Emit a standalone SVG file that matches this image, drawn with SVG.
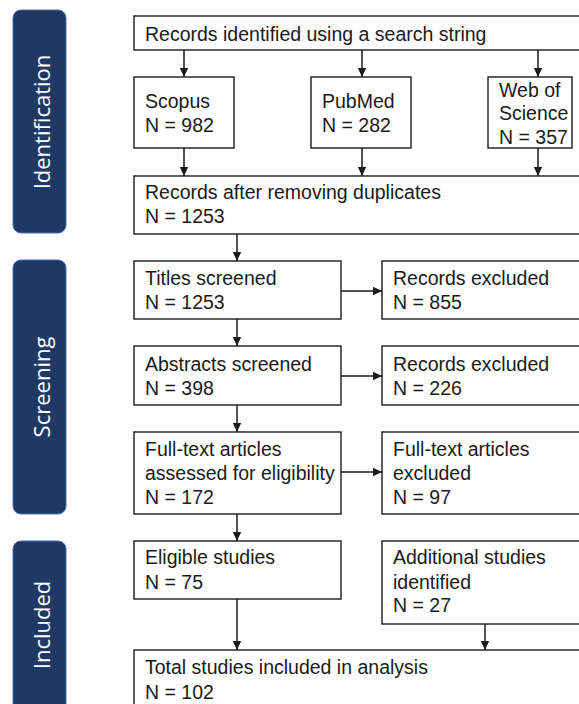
<svg xmlns="http://www.w3.org/2000/svg" width="579" height="704" viewBox="0 0 579 704">
<style>
.band{fill:#203864;stroke:#4a6cb0;stroke-width:1}
.bandtxt{font-family:"Open Sans","Noto Sans",sans-serif;font-size:22px;fill:#ffffff;text-anchor:middle}
.box{fill:#ffffff;stroke:#1a1a1a;stroke-width:1.4}
.t{font-family:"Liberation Sans",Arial,sans-serif;font-size:19.5px;fill:#1a1a1a}
.c{stroke:#1a1a1a;stroke-width:1.5;fill:none;marker-end:url(#ah)}
</style>
<defs>
<marker id="ah" markerUnits="userSpaceOnUse" markerWidth="9" markerHeight="10" viewBox="0 0 9 10" refX="9" refY="5" orient="auto">
<path d="M0,0.8 L9,5 L0,9.2 Z" fill="#1a1a1a"/>
</marker>
</defs>
<rect width="579" height="704" fill="#ffffff"/>
<g id="band-identification">
<rect class="band" x="13" y="10" width="53" height="223" rx="8"/>
<text class="bandtxt" transform="translate(50,122) rotate(-90)">Identification</text>
</g>
<g id="band-screening">
<rect class="band" x="13" y="260" width="53" height="254" rx="8"/>
<text class="bandtxt" transform="translate(50,387) rotate(-90)">Screening</text>
</g>
<g id="band-included">
<rect class="band" x="13" y="541" width="53" height="175" rx="8"/>
<text class="bandtxt" transform="translate(50,625) rotate(-90)">Included</text>
</g>
<g id="connectors">
<line class="c" x1="184" y1="50" x2="184" y2="77"/>
<line class="c" x1="362" y1="50" x2="362" y2="77"/>
<line class="c" x1="538" y1="50" x2="538" y2="77"/>
<line class="c" x1="184" y1="148" x2="184" y2="176"/>
<line class="c" x1="362" y1="148" x2="362" y2="176"/>
<line class="c" x1="538" y1="148" x2="538" y2="176"/>
<line class="c" x1="237" y1="234" x2="237" y2="261"/>
<line class="c" x1="237" y1="319" x2="237" y2="346"/>
<line class="c" x1="237" y1="405" x2="237" y2="432"/>
<line class="c" x1="237" y1="514" x2="237" y2="541"/>
<line class="c" x1="237" y1="599" x2="237" y2="650"/>
<line class="c" x1="485" y1="624" x2="485" y2="650"/>
<line class="c" x1="341" y1="291" x2="382" y2="291"/>
<line class="c" x1="341" y1="376" x2="382" y2="376"/>
<line class="c" x1="341" y1="472" x2="382" y2="472"/>
</g>
<g id="node-records-identified">
<rect class="box" x="134" y="16" width="460" height="34"/>
<text class="t" x="145" y="40.5">Records identified using a search string</text>
</g>
<g id="node-scopus">
<rect class="box" x="134" y="77" width="100" height="71"/>
<text class="t" x="145" y="107.5">Scopus</text>
<text class="t" x="145" y="131.5">N = 982</text>
</g>
<g id="node-pubmed">
<rect class="box" x="311" y="77" width="100" height="71"/>
<text class="t" x="322" y="107.5">PubMed</text>
<text class="t" x="322" y="131.5">N = 282</text>
</g>
<g id="node-wos">
<rect class="box" x="488" y="77" width="84" height="71"/>
<text class="t" x="499" y="96.5">Web of</text>
<text class="t" x="499" y="120">Science</text>
<text class="t" x="499" y="144">N = 357</text>
</g>
<g id="node-after-duplicates">
<rect class="box" x="134" y="176" width="460" height="58"/>
<text class="t" x="145" y="198.5">Records after removing duplicates</text>
<text class="t" x="145" y="222.5">N = 1253</text>
</g>
<g id="node-titles">
<rect class="box" x="134" y="261" width="207" height="58"/>
<text class="t" x="145" y="284.5">Titles screened</text>
<text class="t" x="145" y="308.5">N = 1253</text>
</g>
<g id="node-excl-855">
<rect class="box" x="382" y="261" width="212" height="58"/>
<text class="t" x="393" y="284.5">Records excluded</text>
<text class="t" x="393" y="308.5">N = 855</text>
</g>
<g id="node-abstracts">
<rect class="box" x="134" y="346" width="207" height="59"/>
<text class="t" x="145" y="370.5">Abstracts screened</text>
<text class="t" x="145" y="394.5">N = 398</text>
</g>
<g id="node-excl-226">
<rect class="box" x="382" y="346" width="212" height="59"/>
<text class="t" x="393" y="370.5">Records excluded</text>
<text class="t" x="393" y="394.5">N = 226</text>
</g>
<g id="node-fulltext">
<rect class="box" x="134" y="432" width="207" height="82"/>
<text class="t" x="145" y="456">Full-text articles</text>
<text class="t" x="145" y="479.5">assessed for eligibility</text>
<text class="t" x="145" y="503.5">N = 172</text>
</g>
<g id="node-excl-97">
<rect class="box" x="382" y="432" width="212" height="82"/>
<text class="t" x="393" y="456">Full-text articles</text>
<text class="t" x="393" y="479.5">excluded</text>
<text class="t" x="393" y="503.5">N = 97</text>
</g>
<g id="node-eligible">
<rect class="box" x="134" y="541" width="207" height="58"/>
<text class="t" x="145" y="564">Eligible studies</text>
<text class="t" x="145" y="588.5">N = 75</text>
</g>
<g id="node-additional">
<rect class="box" x="382" y="541" width="212" height="83"/>
<text class="t" x="393" y="564">Additional studies</text>
<text class="t" x="393" y="588.5">identified</text>
<text class="t" x="393" y="612">N = 27</text>
</g>
<g id="node-total">
<rect class="box" x="134" y="650" width="460" height="64"/>
<text class="t" x="145" y="674">Total studies included in analysis</text>
<text class="t" x="145" y="698.5">N = 102</text>
</g>
</svg>
